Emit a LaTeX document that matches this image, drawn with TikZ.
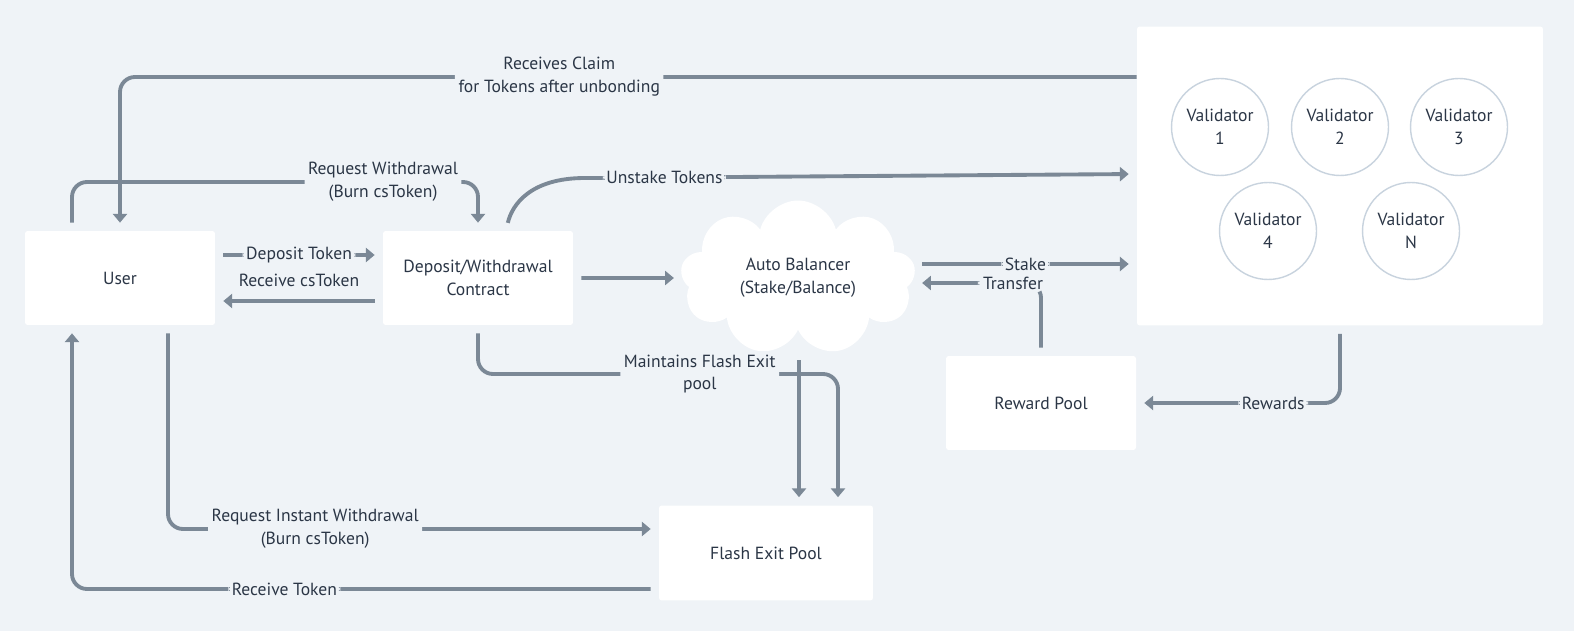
\documentclass[tikz,border=0pt]{standalone}
\usepackage{fontspec}
\setmainfont{PT Sans}
\usetikzlibrary{arrows.meta,calc,shapes.symbols}
\definecolor{bg}{HTML}{EFF3F7}
\definecolor{wire}{HTML}{7B8896}
\definecolor{ink}{HTML}{2B3646}
\definecolor{ring}{HTML}{C8D3DE}
\begin{document}
\begin{tikzpicture}[x=0.02cm,y=-0.02cm,font=\fontsize{10}{13}\selectfont,text=ink,
  box/.style={fill=white,rounded corners=1.5pt,minimum width=3.8cm,minimum height=1.88cm,align=center},
  valid/.style={circle,draw=ring,line width=0.8pt,fill=white,minimum size=1.94cm,inner sep=0pt,align=center},
  flow/.style={draw=wire,line width=2.2pt,rounded corners=0.3cm,-{Triangle[length=5pt,width=8pt]},shorten <=0.16cm,shorten >=0.16cm},
  lbl/.style={fill=bg,inner sep=2pt,align=center}]
\fill[bg](0,0)rectangle(1574,631);
\useasboundingbox(0,0)rectangle(1574,631);
% boxes
\node[box](user)at(120,278){User};
\node[box](contract)at(478,278){Deposit/Withdrawal\\Contract};
\node[box](reward)at(1041,403){Reward Pool};
\node[box,minimum width=4.28cm,minimum height=1.9cm](flash)at(766,553){Flash Exit Pool};
\node[cloud,cloud puffs=9,cloud ignores aspect,fill=white,minimum width=4.7cm,minimum height=3.1cm,inner sep=0pt,align=center](balancer)at(798,278){Auto Balancer\\(Stake/Balance)};
\node[box,minimum width=8.12cm,minimum height=5.98cm](validators)at(1340,176){};
% validators
\node[valid](v1)at(1220,127){Validator\\1};
\node[valid](v2)at(1340,127){Validator\\2};
\node[valid](v3)at(1459,127){Validator\\3};
\node[valid](v4)at(1268,231){Validator\\4};
\node[valid](vN)at(1411,231){Validator\\N};
% connectors
\draw[flow,shorten <=0pt](validators.west|-0,77)-|node[lbl,pos=0.284]{Receives Claim\\for Tokens after unbonding}(user.north);
\draw[flow](user.north-|72,0)--(72,182)-|node[lbl,pos=0.383]{Request Withdrawal\\(Burn csToken)}(contract.north);
\draw[flow]($(contract.north)+(28,0)$)..controls(512,205)and(530,178)..(600,178)--node[lbl,pos=0.12]{Unstake Tokens}(validators.west|-0,174);
\draw[flow]($(user.east)+(0,-23)$)--node[lbl]{Deposit Token}($(contract.west)+(0,-23)$);
\draw[flow]($(contract.west)+(0,23)$)--node[yshift=0.42cm]{Receive csToken}($(user.east)+(0,23)$);
\draw[flow](contract)--(balancer);
\draw[flow](balancer.east|-0,264)--node[lbl]{Stake}(validators.west|-0,264);
\draw[flow](reward.north)--(reward.north|-0,283)node[lbl,xshift=-0.56cm,inner xsep=3pt]{Transfer}--(balancer.east|-0,283);
\draw[flow](validators.south-|1340,0)|-node[lbl,pos=0.664]{Rewards}(reward.east);
\draw[flow](contract.south)--(contract.south|-0,374)-|node[lbl,pos=0.308]{Maintains Flash Exit\\pool}($(flash.north)+(72,0)$);
\draw[flow,shorten <=0.6cm](balancer.south-|799,0)--(flash.north-|799,0);
\draw[flow]($(user.south)+(48,0)$)|-node[lbl,pos=0.65]{Request Instant Withdrawal\\(Burn csToken)}(flash.west|-0,529);
\draw[flow](flash.west|-0,589)-|node[lbl,pos=0.319]{Receive Token}($(user.south)+(-48,0)$);
\end{tikzpicture}
\end{document}
